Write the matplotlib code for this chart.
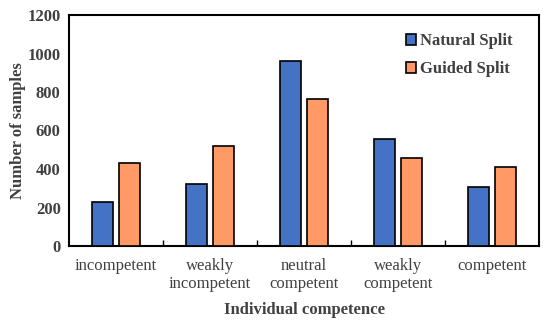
import numpy as np
import matplotlib
matplotlib.use("Agg")
import matplotlib.pyplot as plt

categories = ["incompetent", "weakly\nincompetent", "neutral\ncompetent", "weakly\ncompetent", "competent"]
natural_split = [230, 320, 963, 557, 308]
guided_split = [430, 520, 764, 457, 409]

plt.rcParams['font.family'] = ['Liberation Serif', 'DejaVu Serif']
txt = "#404040"

fig = plt.figure(figsize=(5.5, 3.25), dpi=100)
ax = fig.add_axes([69/550, 1-246/325, 470/550, 231/325])

x = np.arange(len(categories))
w = 0.23
ax.bar(x - 0.144, natural_split, w, color="#4472C4", edgecolor="black", lw=1.2, label="Natural Split", zorder=3)
ax.bar(x + 0.144, guided_split, w, color="#FF9966", edgecolor="black", lw=1.2, label="Guided Split", zorder=3)

ax.set_xlim(-0.5, 4.5)
ax.set_ylim(0, 1200)
ax.set_yticks(range(0, 1201, 200))
ax.tick_params(axis='y', length=0, labelsize=12, labelcolor=txt, pad=6)
for t in ax.get_yticklabels():
    t.set_fontweight('bold')
ax.set_xticks(x)
ax.set_xticklabels(categories, fontsize=12, color=txt, linespacing=1.15)
ax.tick_params(axis='x', length=0, pad=9)
# tick marks at group boundaries
ax.set_xticks(np.arange(0.5, 4.5, 1), minor=True)
ax.tick_params(axis='x', which='minor', direction='in', length=4, width=1)
for s in ax.spines.values():
    s.set_linewidth(1.5)

ax.set_ylabel("Number of samples", fontsize=12, fontweight='bold', color=txt, labelpad=1)
ax.set_xlabel("Individual competence", fontsize=12, fontweight='bold', color=txt, labelpad=7)

leg = ax.legend(loc='upper right', frameon=False, prop={'weight': 'bold', 'size': 12},
                handlelength=0.6, handleheight=0.6, handletextpad=0.2, labelspacing=0.7,
                bbox_to_anchor=(0.975, 0.985))
for t in leg.get_texts():
    t.set_color(txt)

plt.savefig("out.png", dpi=100)
